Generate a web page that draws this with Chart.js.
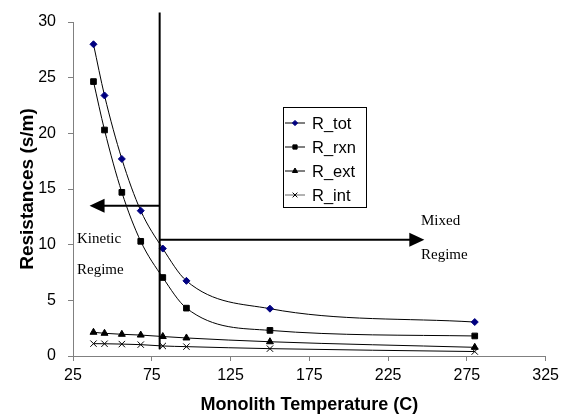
<!DOCTYPE html>
<html>
<head>
<meta charset="utf-8">
<script src="https://cdn.jsdelivr.net/npm/chart.js@4.4.1/dist/chart.umd.min.js"></script>
<style>
  html, body { margin: 0; padding: 0; background: #fff; }
  #wrap { width: 564px; height: 419px; }
</style>
</head>
<body>
<div id="wrap"><canvas id="chart"></canvas></div>
<script>
// 数据
const temps = [38, 45, 56, 68, 82, 97, 150, 280];
const rTot = [28.0, 23.4, 17.7, 13.05, 9.65, 6.75, 4.25, 3.05];
const rRxn = [24.65, 20.3, 14.7, 10.3, 7.05, 4.3, 2.3, 1.8];
const rExt = [2.13, 2.04, 1.95, 1.88, 1.75, 1.62, 1.28, 0.78];
const rInt = [1.11, 1.1, 1.07, 1.02, 0.9, 0.84, 0.66, 0.4];
const seriesNames = ['R_tot', 'R_rxn', 'R_ext', 'R_int'];
const yTicks = [0, 5, 10, 15, 20, 25, 30];
const xTicks = [25, 75, 125, 175, 225, 275, 325];

// 区域分隔线与箭头
const boundaryT = 80;
const kineticArrow = { y: 13.5, toX: 35.5 };
const mixedArrow = { y: 10.45, toX: 248 };

function toPoints(vals) {
    return vals.map((v, i) => ({ x: temps[i], y: v }));
}

const lineStyle = {
    borderColor: '#000',
    borderWidth: 1,
    cubicInterpolationMode: 'monotone',
    fill: false
};

const datasets = [
    Object.assign({ label: seriesNames[0], data: toPoints(rTot), pointStyle: 'rectRot', pointRadius: 3.5, pointBackgroundColor: '#000080', pointBorderColor: '#000080', pointBorderWidth: 1 }, lineStyle),
    Object.assign({ label: seriesNames[1], data: toPoints(rRxn), pointStyle: 'rect', pointRadius: 4, pointBackgroundColor: '#000', pointBorderColor: '#000', pointBorderWidth: 1 }, lineStyle),
    Object.assign({ label: seriesNames[2], data: toPoints(rExt), pointStyle: 'triangle', pointRadius: 4, pointBackgroundColor: '#000', pointBorderColor: '#000', pointBorderWidth: 1 }, lineStyle),
    Object.assign({ label: seriesNames[3], data: toPoints(rInt), pointStyle: 'crossRot', pointRadius: 4.5, pointBackgroundColor: '#000', pointBorderColor: '#000', pointBorderWidth: 1 }, lineStyle)
];

function arrowHead(ctx, tipX, y, dir) {
    ctx.beginPath();
    ctx.moveTo(tipX, y);
    ctx.lineTo(tipX - dir * 15, y - 7);
    ctx.lineTo(tipX - dir * 15, y + 7);
    ctx.closePath();
    ctx.fill();
}

// 区域标注 + 图例
const overlayPlugin = {
    id: 'overlay',
    afterDatasetsDraw(chart) {
        const ctx = chart.ctx;
        const xs = chart.scales.x, ys = chart.scales.y;
        const bx = xs.getPixelForValue(boundaryT);
        ctx.save();
        ctx.strokeStyle = '#000';
        ctx.fillStyle = '#000';
        ctx.lineWidth = 2;

        // 竖线
        ctx.beginPath();
        ctx.moveTo(bx, ys.getPixelForValue(30.85));
        ctx.lineTo(bx, ys.getPixelForValue(0.6));
        ctx.stroke();

        // 左箭头
        let ay = ys.getPixelForValue(kineticArrow.y);
        let tip = xs.getPixelForValue(kineticArrow.toX);
        ctx.beginPath();
        ctx.moveTo(bx, ay);
        ctx.lineTo(tip + 12, ay);
        ctx.stroke();
        arrowHead(ctx, tip, ay, -1);

        // 右箭头
        ay = ys.getPixelForValue(mixedArrow.y);
        tip = xs.getPixelForValue(mixedArrow.toX);
        ctx.beginPath();
        ctx.moveTo(bx, ay);
        ctx.lineTo(tip - 12, ay);
        ctx.stroke();
        arrowHead(ctx, tip, ay, 1);

        // 文字
        ctx.font = '15px "Liberation Serif", "DejaVu Serif", serif';
        ctx.textAlign = 'left';
        ctx.textBaseline = 'alphabetic';
        ctx.fillText('Kinetic', 77, 243);
        ctx.fillText('Regime', 77, 274);
        ctx.fillText('Mixed', 421, 225);
        ctx.fillText('Regime', 421, 259);

        // 图例
        const lx = 283, ly = 107, lw = 83, lh = 100;
        ctx.lineWidth = 1;
        ctx.strokeStyle = '#000';
        ctx.strokeRect(lx + 0.5, ly + 0.5, lw, lh);
        ctx.font = '16.5px "Liberation Sans", Arial, sans-serif';
        ctx.textBaseline = 'middle';
        chart.data.datasets.forEach((ds, i) => {
            const rowY = ly + 16 + i * 24;
            ctx.strokeStyle = i === 3 ? '#666' : '#000';
            ctx.lineWidth = 1;
            ctx.beginPath();
            ctx.moveTo(lx + 2, rowY);
            ctx.lineTo(lx + 22, rowY);
            ctx.stroke();
            ctx.fillStyle = ds.pointBackgroundColor;
            ctx.strokeStyle = ds.pointBorderColor;
            Chart.helpers.drawPoint(ctx, {
                pointStyle: ds.pointStyle,
                radius: ds.pointRadius * 0.75,
                borderWidth: 1
            }, lx + 12, rowY);
            ctx.fillStyle = '#000';
            ctx.fillText(ds.label, lx + 29, rowY + 1);
        });
        ctx.restore();
    }
};

const axisColor = '#808080';
const tickFont = { family: '"Liberation Sans", Arial, sans-serif', size: 16 };
const xTitleFont = { family: '"Liberation Sans", Arial, sans-serif', size: 18, weight: 'bold' };
const yTitleFont = { family: '"Liberation Sans", Arial, sans-serif', size: 19, weight: 'bold' };

new Chart(document.getElementById('chart'), {
    type: 'line',
    data: { datasets: datasets },
    options: {
        responsive: true,
        maintainAspectRatio: false,
        animation: false,
        layout: { padding: { top: 22, right: 17, left: 0, bottom: 0 } },
        plugins: {
            legend: { display: false },
            tooltip: { enabled: false }
        },
        scales: {
            x: {
                type: 'linear',
                min: 25,
                max: 325,
                afterBuildTicks: (s) => { s.ticks = xTicks.map(v => ({ value: v })); },
                afterFit: (s) => { s.height = 63; },
                ticks: { color: '#000', font: tickFont, padding: 5, maxRotation: 0 },
                grid: { drawOnChartArea: false, tickLength: 5, color: axisColor },
                border: { color: axisColor, width: 1 },
                title: { display: true, text: 'Monolith Temperature (C)', color: '#000', font: xTitleFont, padding: { top: 2, bottom: 3 } }
            },
            y: {
                min: 0,
                max: 30,
                afterBuildTicks: (s) => { s.ticks = yTicks.map(v => ({ value: v })); },
                afterFit: (s) => { s.width = 73; },
                ticks: { color: '#000', font: tickFont, padding: 12 },
                grid: { drawOnChartArea: false, tickLength: 5, color: axisColor },
                border: { color: axisColor, width: 1 },
                title: { display: true, text: 'Resistances (s/m)', color: '#000', font: yTitleFont, padding: { top: 16, bottom: 4 } }
            }
        }
    },
    plugins: [overlayPlugin]
});
</script>
</body>
</html>
